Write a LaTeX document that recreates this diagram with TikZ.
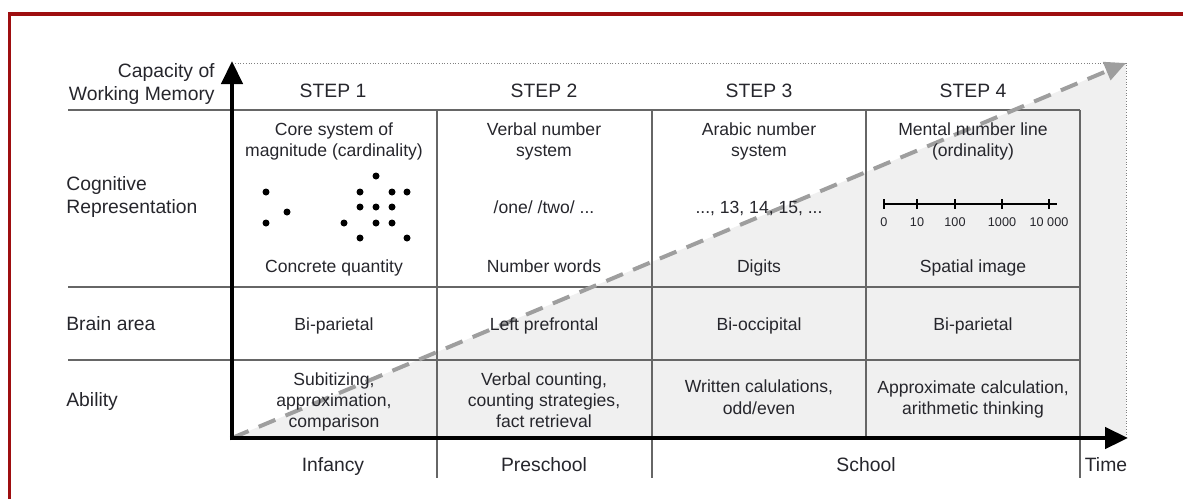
\documentclass[tikz,border=0pt]{standalone}
\usepackage{fontspec}
\setmainfont{Liberation Sans}
\usetikzlibrary{arrows.meta}
\definecolor{framered}{RGB}{158,14,16}
\definecolor{ink}{RGB}{38,38,44}

\begin{document}
\begin{tikzpicture}[x=0.02cm,y=-0.02cm,
    every node/.style={inner sep=0pt,text=ink},
    head/.style={font=\fontsize{11}{13.5}\selectfont},
    cell/.style={font=\fontsize{10}{12}\selectfont,align=center},
    numlabel/.style={font=\fontsize{7.2}{8}\selectfont,anchor=base},
    rule/.style={draw=black!60,line width=0.03cm},
    axis/.style={line width=0.09cm,-{Triangle[length=0.46cm,width=0.42cm]}}]
  \useasboundingbox (0,0) rectangle (1183,498);
  % page frame
  \draw[framered,line width=0.08cm] (9.5,500) -- (9.5,14) -- (1185,14);

  % corners of the chart
  \coordinate (origin) at (232,438);
  \coordinate (ytip) at (232,61);
  \coordinate (xtip) at (1128,438);
  \coordinate (corner) at (1126,63);

  % shaded growth area and dotted frame
  \fill[black!6] (origin) -- (origin -| corner) -- (corner) -- cycle;
  \draw[black!50,densely dotted,line width=0.02cm]
    (origin |- corner) -- (corner) -- (origin -| corner);

  % table rules
  \draw[rule] (68,110) -- (1080,110);
  \draw[rule] (68,287) -- (1080,287);
  \draw[rule] (68,360) -- (1080,360);
  \draw[rule] (437,110) -- (437,478);
  \draw[rule] (652,110) -- (652,478);
  \draw[rule] (866,110) -- (866,438);
  \draw[rule] (1080,110) -- (1080,478);

  % capacity trend
  \draw[black!38,line width=0.08cm,dash pattern=on 0.36cm off 0.22cm,
    -{Triangle[length=0.42cm,width=0.38cm]}] (origin) -- (corner);

  % header row
  \node[head,anchor=east,align=right] (wm) at (215,84) {Capacity of\\Working Memory};
  \node[head,anchor=base] (step1) at (333,97) {STEP 1};
  \node[head,anchor=base] (step2) at (544,97) {STEP 2};
  \node[head,anchor=base] (step3) at (759,97) {STEP 3};
  \node[head,anchor=base] (step4) at (973,97) {STEP 4};

  % row labels
  \node[head,anchor=west,align=left] (cogrep) at (66,197) {Cognitive\\Representation};
  \node[head,anchor=base west] (brain) at (66,330) {Brain area};
  \node[head,anchor=base west] (ability) at (66,406) {Ability};

  % cognitive representation
  \node[cell] (sys1) at (334,141) {Core system of\\magnitude (cardinality)};
  \node[cell] (sys2) at (544,141) {Verbal number\\system};
  \node[cell] (sys3) at (759,141) {Arabic number\\system};
  \node[cell] (sys4) at (973,141) {Mental number line\\(ordinality)};

  \foreach \x/\y in {266/192,287/212,266/223,
                     376/176,360/192,392/192,407/192,360/207,376/207,392/207,
                     344/223,376/223,392/223,360/238,407/238}
    \fill[black] (\x,\y) circle (0.07cm);
  \node[cell,anchor=base] (ex2) at (544,213) {/one/ /two/ ...};
  \node[cell,anchor=base] (ex3) at (759,213) {..., 13, 14, 15, ...};
  \draw[line width=0.04cm] (884,204) -- (1057,204);
  \foreach \x/\t in {884/0,917/10,955/100,1002/1000,1049/10 000} {
    \draw[line width=0.035cm] (\x,199) -- (\x,209);
    \node[numlabel] (num\x) at (\x,226) {\t};
  }

  \node[cell,anchor=base] (code1) at (334,272) {Concrete quantity};
  \node[cell,anchor=base] (code2) at (544,272) {Number words};
  \node[cell,anchor=base] (code3) at (759,272) {Digits};
  \node[cell,anchor=base] (code4) at (973,272) {Spatial image};

  % brain area
  \node[cell,anchor=base] (area1) at (334,330) {Bi-parietal};
  \node[cell,anchor=base] (area2) at (544,330) {Left prefrontal};
  \node[cell,anchor=base] (area3) at (759,330) {Bi-occipital};
  \node[cell,anchor=base] (area4) at (973,330) {Bi-parietal};

  % ability
  \node[cell] (abil1) at (334,401.6) {Subitizing,\\approximation,\\comparison};
  \node[cell] (abil2) at (544,399.8) {Verbal counting,\\counting strategies,\\fact retrieval};
  \node[cell] (abil3) at (759,397.2) {Written calulations,\\odd/even};
  \node[cell] (abil4) at (973,399) {Approximate calculation,\\arithmetic thinking};

  % axes
  \draw[axis] ([yshift=-0.045cm]origin) -- (ytip);
  \draw[axis] ([xshift=-0.045cm]origin) -- (xtip);

  % time periods
  \node[head,anchor=base] (infancy) at (333,471) {Infancy};
  \node[head,anchor=base] (preschool) at (544,471) {Preschool};
  \node[head,anchor=base] (school) at (866,471) {School};
  \node[head,anchor=base] (time) at (1106,471) {Time};
\end{tikzpicture}
\end{document}
